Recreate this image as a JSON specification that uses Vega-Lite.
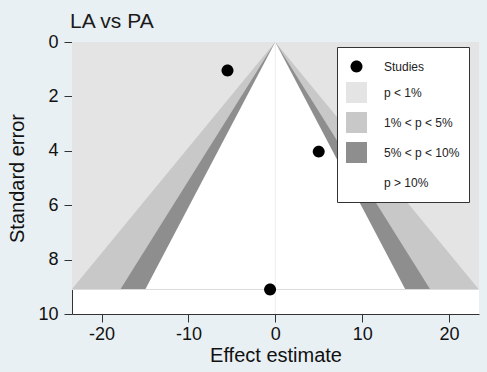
{
  "$schema": "https://vega.github.io/schema/vega-lite/v6.json",
  "width": 407,
  "height": 272,
  "autosize": {"type": "none"},
  "padding": {"left": 72, "top": 42, "right": 8, "bottom": 58},
  "background": "#e8f0f3",
  "title": {"text": "LA vs PA", "anchor": "start", "frame": "group", "fontSize": 21, "font": "Liberation Sans", "fontWeight": "normal", "color": "#1a1a1a", "offset": 1, "dx": -2},
  "config": {
    "view": {"fill": "white", "stroke": null},
    "font": "Liberation Sans",
    "axis": {"domainColor": "#333333", "tickColor": "#333333", "labelColor": "#111111", "titleColor": "#111111", "grid": false, "labelFont": "Liberation Sans", "titleFont": "Liberation Sans", "titleFontWeight": "normal", "labelFontSize": 18, "titleFontSize": 20, "tickSize": 8},
    "legend": {"orient": "none", "legendX": 265, "legendY": 5, "padding": 9, "fillColor": "white", "strokeColor": "#333333", "symbolSize": 441, "symbolStrokeWidth": 0, "labelFontSize": 12, "labelFont": "Liberation Sans", "labelColor": "#222222", "rowPadding": 9, "labelOffset": 17}
  },
  "datasets": {
    "bands": [
      {"band": "p < 1%", "se": 0, "lo": -30, "hi": 30},
      {"band": "p < 1%", "se": 9.1, "lo": -30, "hi": 30},
      {"band": "1% < p < 5%", "se": 0, "lo": 0, "hi": 0},
      {"band": "1% < p < 5%", "se": 9.1, "lo": -23.44, "hi": 23.44},
      {"band": "5% < p < 10%", "se": 0, "lo": 0, "hi": 0},
      {"band": "5% < p < 10%", "se": 9.1, "lo": -17.84, "hi": 17.84},
      {"band": "p > 10%", "se": 0, "lo": 0, "hi": 0},
      {"band": "p > 10%", "se": 9.1, "lo": -14.97, "hi": 14.97}
    ],
    "studies": [
      {"band": "Studies", "est": -5.5, "se": 1.05},
      {"band": "Studies", "est": 5.0, "se": 4.03},
      {"band": "Studies", "est": -0.6, "se": 9.1}
    ],
    "vref": [{"est": 0}],
    "href": [{"se": 9.1}]
  },
  "layer": [
    {
      "data": {"name": "bands"},
      "transform": [{"filter": "datum.band === 'p < 1%'"}],
      "mark": {"type": "area", "orient": "horizontal", "clip": true},
      "encoding": {
        "y": {"field": "se", "type": "quantitative", "scale": {"domain": [0, 10], "reverse": true, "nice": false, "zero": false},
          "axis": {"title": "Standard error", "values": [0, 2, 4, 6, 8, 10], "labelAngle": 0, "labelPadding": 6, "titlePadding": 10}},
        "x": {"field": "lo", "type": "quantitative", "scale": {"domain": [-23.4, 23.45], "nice": false, "zero": false},
          "axis": {"title": "Effect estimate", "values": [-20, -10, 0, 10, 20], "labelExpr": "datum.value + ''", "labelPadding": 3, "titlePadding": 2}},
        "x2": {"field": "hi"},
        "color": {"field": "band", "type": "nominal", "title": null,
          "scale": {"domain": ["Studies", "p < 1%", "1% < p < 5%", "5% < p < 10%", "p > 10%"], "range": ["#000000", "#e4e4e4", "#c8c8c8", "#8e8e8e", "#ffffff"]}}
      }
    },
    {
      "data": {"name": "bands"},
      "transform": [{"filter": "datum.band === '1% < p < 5%'"}],
      "mark": {"type": "area", "orient": "horizontal", "clip": true},
      "encoding": {
        "y": {"field": "se", "type": "quantitative"},
        "x": {"field": "lo", "type": "quantitative"},
        "x2": {"field": "hi"},
        "color": {"field": "band", "type": "nominal", "title": null}
      }
    },
    {
      "data": {"name": "bands"},
      "transform": [{"filter": "datum.band === '5% < p < 10%'"}],
      "mark": {"type": "area", "orient": "horizontal", "clip": true},
      "encoding": {
        "y": {"field": "se", "type": "quantitative"},
        "x": {"field": "lo", "type": "quantitative"},
        "x2": {"field": "hi"},
        "color": {"field": "band", "type": "nominal", "title": null}
      }
    },
    {
      "data": {"name": "bands"},
      "transform": [{"filter": "datum.band === 'p > 10%'"}],
      "mark": {"type": "area", "orient": "horizontal", "clip": true},
      "encoding": {
        "y": {"field": "se", "type": "quantitative"},
        "x": {"field": "lo", "type": "quantitative"},
        "x2": {"field": "hi"},
        "color": {"field": "band", "type": "nominal", "title": null}
      }
    },
    {
      "data": {"name": "vref"},
      "mark": {"type": "rule", "color": "#ececec", "strokeWidth": 1},
      "encoding": {"x": {"field": "est", "type": "quantitative"}}
    },
    {
      "data": {"name": "href"},
      "mark": {"type": "rule", "color": "#dcdcdc", "strokeWidth": 1},
      "encoding": {"y": {"field": "se", "type": "quantitative"}}
    },
    {
      "data": {"name": "studies"},
      "mark": {"type": "point", "filled": true, "opacity": 1, "size": 441},
      "encoding": {
        "x": {"field": "est", "type": "quantitative"},
        "y": {"field": "se", "type": "quantitative"},
        "color": {"field": "band", "type": "nominal", "title": null},
        "shape": {"field": "band", "type": "nominal", "title": null,
          "scale": {"domain": ["Studies", "p < 1%", "1% < p < 5%", "5% < p < 10%", "p > 10%"], "range": ["M-0.57,0A0.57,0.57,0,1,1,0.57,0A0.57,0.57,0,1,1,-0.57,0Z", "square", "square", "square", "square"]}}
      }
    }
  ]
}
